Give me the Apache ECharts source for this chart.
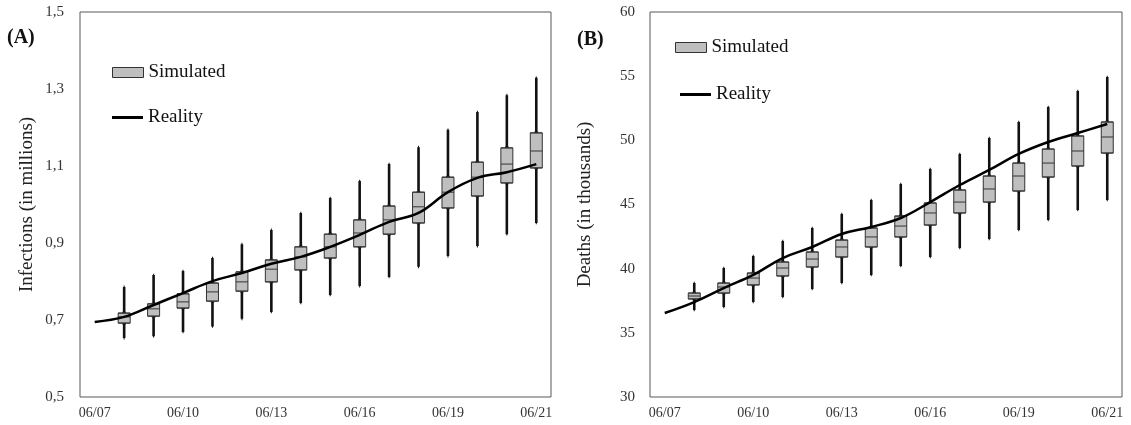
<!DOCTYPE html>
<html>
<head>
<meta charset="utf-8">
<script src="https://cdn.jsdelivr.net/npm/echarts@6/dist/echarts.min.js"></script>
<style>
html, body { margin: 0; padding: 0; background: #fff; }
#chart { width: 1131px; height: 425px; }
</style>
</head>
<body>
<div id="chart"></div>
<script>
// categories (first day has only the observed value)
var days = ['06/07','06/08','06/09','06/10','06/11','06/12','06/13','06/14',
            '06/15','06/16','06/17','06/18','06/19','06/20','06/21','06/22'];
var tickLabels = ['06/07','','','06/10','','','06/13','','','06/16','','','06/19','','','06/21'];

// infections, millions (boxes for days 1..15)
var infLow  = [0.653,0.658,0.669,0.683,0.703,0.721,0.744,0.765,0.788,0.812,0.838,0.866,0.892,0.923,0.952];
var infQ1   = [0.692,0.710,0.731,0.749,0.775,0.799,0.830,0.861,0.890,0.923,0.952,0.991,1.022,1.056,1.095];
var infMed  = [0.708,0.729,0.747,0.773,0.799,0.832,0.864,0.890,0.926,0.960,0.994,1.032,1.071,1.105,1.139];
var infQ3   = [0.718,0.742,0.768,0.796,0.825,0.856,0.890,0.923,0.960,0.996,1.032,1.071,1.110,1.147,1.186];
var infHigh = [0.786,0.817,0.827,0.861,0.897,0.934,0.978,1.017,1.061,1.105,1.149,1.194,1.240,1.284,1.329];
var infReal = [0.695,0.708,0.739,0.770,0.801,0.822,0.846,0.864,0.890,0.921,0.955,0.978,1.032,1.069,1.084,1.105];

// deaths, thousands
var dthLow  = [36.78,37.01,37.40,37.79,38.42,38.88,39.51,40.21,40.91,41.61,42.31,43.01,43.79,44.57,45.35];
var dthQ1   = [37.64,38.10,38.73,39.43,40.13,40.91,41.69,42.47,43.40,44.34,45.19,46.05,47.14,48.00,49.01];
var dthMed  = [37.87,38.57,39.27,40.05,40.75,41.69,42.47,43.32,44.34,45.19,46.21,47.22,48.23,49.17,50.26];
var dthQ3   = [38.10,38.88,39.66,40.52,41.30,42.23,43.17,44.10,45.12,46.13,47.22,48.23,49.32,50.34,51.43];
var dthHigh = [38.88,40.05,40.99,42.16,43.17,44.26,45.35,46.60,47.77,48.94,50.18,51.43,52.60,53.84,54.94];
var dthReal = [36.55,37.40,38.49,39.51,40.83,41.69,42.70,43.25,43.95,45.19,46.52,47.69,48.94,49.87,50.57,51.27];

var serif = 'Liberation Serif';

function whiskers(lo, q1, md, q3, hi) {
    return lo.map(function (v, i) { return [i + 1, lo[i], q1[i], md[i], q3[i], hi[i]]; });
}
function boxes(lo, q1, md, q3, hi) {
    return lo.map(function (v, i) { return [i + 1, q1[i], q1[i], md[i], q3[i], q3[i]]; });
}

function xAxisFor(idx, visible) {
    return {
        type: 'category', gridIndex: idx, data: days, boundaryGap: true, show: visible,
        axisLine: { show: false }, axisTick: { show: false }, splitLine: { show: false },
        axisLabel: {
            interval: 0, margin: 9, fontFamily: serif, fontSize: 14, color: '#333',
            formatter: function (v, i) { return tickLabels[i]; }
        }
    };
}

function seriesFor(idx, lo, q1, md, q3, hi, real) {
    return [
        {
            // whiskers sit on a hidden twin axis so the boxes are not offset
            name: 'Simulated', type: 'boxplot', xAxisIndex: idx + 2, yAxisIndex: idx,
            data: whiskers(lo, q1, md, q3, hi), encode: { x: 0, y: [1, 2, 3, 4, 5] },
            boxWidth: [1, 1], emphasis: { disabled: true },
            itemStyle: { color: '#111', borderColor: '#111', borderWidth: 2.6 }
        },
        {
            name: 'Simulated', type: 'boxplot', xAxisIndex: idx, yAxisIndex: idx,
            data: boxes(lo, q1, md, q3, hi), encode: { x: 0, y: [1, 2, 3, 4, 5] },
            boxWidth: [12, 12], emphasis: { disabled: true },
            itemStyle: { color: '#bfbfbf', borderColor: '#333', borderWidth: 1 }
        },
        {
            name: 'Reality', type: 'line', xAxisIndex: idx, yAxisIndex: idx,
            data: real, smooth: 0.4, symbol: 'none', color: '#000',
            lineStyle: { color: '#000', width: 2.5 }
        }
    ];
}

function legendFor(name, left, top, h, style) {
    return {
        left: left, top: top, itemWidth: 31, itemHeight: h, selectedMode: false,
        data: [{ name: name, icon: 'rect', itemStyle: style }],
        textStyle: { fontFamily: serif, fontSize: 19, color: '#111' }
    };
}

var chart = echarts.init(document.getElementById('chart'));
var option = {
    animation: false,
    title: [
        { text: '(A)', left: 7, top: 28, padding: 0, textStyle: { fontFamily: serif, fontWeight: 'bold', fontSize: 20, color: '#111' } },
        { text: '(B)', left: 577, top: 30, padding: 0, textStyle: { fontFamily: serif, fontWeight: 'bold', fontSize: 20, color: '#111' } }
    ],
    legend: [
        legendFor('Simulated', 107, 58, 10, { color: '#bfbfbf', borderColor: '#333', borderWidth: 1 }),
        legendFor('Reality', 107, 103, 3, { color: '#000', borderWidth: 0 }),
        legendFor('Simulated', 670, 33, 10, { color: '#bfbfbf', borderColor: '#333', borderWidth: 1 }),
        legendFor('Reality', 675, 80, 3, { color: '#000', borderWidth: 0 })
    ],
    grid: [
        { left: 80, right: 580, top: 12, bottom: 28, show: true, borderColor: '#595959', borderWidth: 1 },
        { left: 650, right: 9, top: 12, bottom: 28, show: true, borderColor: '#595959', borderWidth: 1 }
    ],
    xAxis: [xAxisFor(0, true), xAxisFor(1, true), xAxisFor(0, false), xAxisFor(1, false)],
    yAxis: [
        {
            type: 'value', gridIndex: 0, min: 0.5, max: 1.5, interval: 0.2,
            name: 'Infections (in millions)', nameLocation: 'middle', nameGap: 43,
            nameTextStyle: { fontFamily: serif, fontSize: 19, color: '#222' },
            axisLine: { show: false }, axisTick: { show: false }, splitLine: { show: false },
            axisLabel: {
                margin: 16, fontFamily: serif, fontSize: 15, color: '#333',
                formatter: function (v) { return v.toFixed(1).replace('.', ','); }
            }
        },
        {
            type: 'value', gridIndex: 1, min: 30, max: 60, interval: 5,
            name: 'Deaths (in thousands)', nameLocation: 'middle', nameGap: 55,
            nameTextStyle: { fontFamily: serif, fontSize: 19, color: '#222' },
            axisLine: { show: false }, axisTick: { show: false }, splitLine: { show: false },
            axisLabel: { margin: 15, fontFamily: serif, fontSize: 15, color: '#333' }
        }
    ],
    series: seriesFor(0, infLow, infQ1, infMed, infQ3, infHigh, infReal)
        .concat(seriesFor(1, dthLow, dthQ1, dthMed, dthQ3, dthHigh, dthReal))
};
chart.setOption(option);
</script>
</body>
</html>
